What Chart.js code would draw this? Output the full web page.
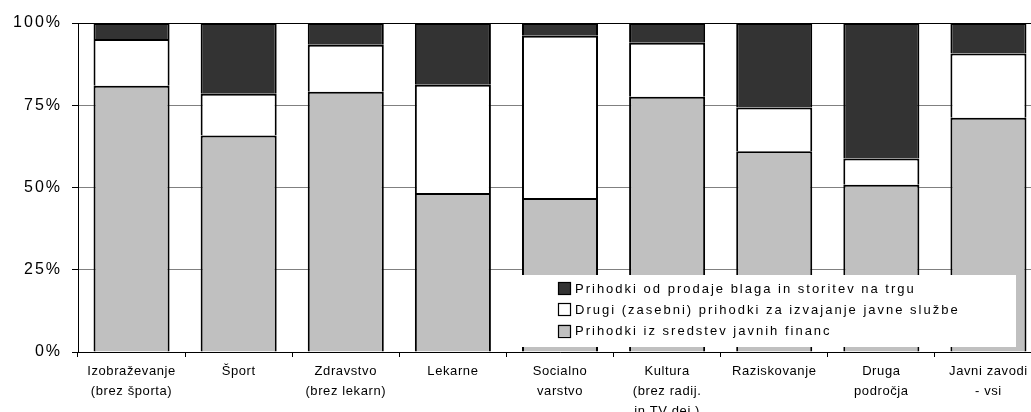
<!DOCTYPE html>
<html>
<head>
<meta charset="utf-8">
<script src="https://cdn.jsdelivr.net/npm/chart.js@4/dist/chart.umd.min.js"></script>
<style>
  html, body { margin: 0; padding: 0; background: #fff; overflow: hidden; width: 1031px; height: 412px; }
  canvas { display: block; }
</style>
</head>
<body>
<canvas id="c" width="1050" height="412"></canvas>
<script>
const categories = [
  ["Izobraževanje", "(brez športa)"],
  ["Šport"],
  ["Zdravstvo", "(brez lekarn)"],
  ["Lekarne"],
  ["Socialno", "varstvo"],
  ["Kultura", "(brez radij.", "in TV dej.)"],
  ["Raziskovanje"],
  ["Druga", "področja"],
  ["Javni zavodi", "- vsi"]
];
const seriesNames = [
  "Prihodki iz sredstev javnih financ",
  "Drugi (zasebni) prihodki za izvajanje javne službe",
  "Prihodki od prodaje blaga in storitev na trgu"
];
const publicFunds = [80.9, 65.8, 79.1, 48.3, 46.8, 77.6, 61.0, 50.8, 71.2];
const otherIncome = [14.2, 12.7, 14.3, 32.9, 49.3, 16.4, 13.3, 8.0, 19.5];
const marketSales = [4.9, 21.5, 6.6, 18.8, 3.9, 6.0, 25.7, 41.2, 9.3];
const yTicks = [0, 25, 50, 75, 100];

const colors = ["#c0c0c0", "#ffffff", "#333333"];

function wrapLabels(scale, spacing) {
  if (scale._spWrapped) return;
  const orig = scale.drawLabels;
  scale.drawLabels = function (ca) {
    const c = this.ctx;
    c.save();
    c.letterSpacing = spacing;
    orig.call(this, ca);
    c.restore();
  };
  scale._spWrapped = true;
}

const spacingPlugin = {
  id: 'spacing',
  afterLayout(chart) {
    wrapLabels(chart.scales.x, '0.6px');
    wrapLabels(chart.scales.y, '2px');
  }
};

const legendPlugin = {
  id: 'customLegend',
  afterDraw(chart) {
    const ctx = chart.ctx;
    const ds = chart.data.datasets;
    ctx.save();
    ctx.fillStyle = '#ffffff';
    ctx.fillRect(522, 275, 494, 72);
    ctx.font = '13px "Liberation Sans", Arial, sans-serif';
    ctx.letterSpacing = '2px';
    ctx.textBaseline = 'middle';
    ctx.textAlign = 'left';
    const order = [2, 1, 0];
    order.forEach((di, i) => {
      const cy = 288 + i * 21.3;
      ctx.fillStyle = ds[di].backgroundColor;
      ctx.fillRect(558.5, cy - 6, 12, 12);
      ctx.strokeStyle = '#000';
      ctx.lineWidth = 1.2;
      ctx.strokeRect(558.5, Math.round(cy - 6) + 0.5, 12, 12);
      ctx.fillStyle = '#000';
      ctx.fillText(ds[di].label, 575, cy + 1);
    });
    ctx.restore();
  }
};

const seriesData = [publicFunds, otherIncome, marketSales];

new Chart(document.getElementById('c'), {
  type: 'bar',
  data: {
    labels: categories,
    datasets: seriesData.map((d, i) => ({
      label: seriesNames[i],
      data: d,
      backgroundColor: colors[i],
      borderColor: '#000000',
      borderWidth: 2,
      borderSkipped: 'start',
      barPercentage: 0.71,
      categoryPercentage: 1.0
    }))
  },
  options: {
    responsive: false,
    devicePixelRatio: 1,
    animation: false,
    events: [],
    layout: { padding: { top: 23, right: 8, left: 0, bottom: 0 } },
    plugins: {
      legend: { display: false },
      tooltip: { enabled: false }
    },
    scales: {
      x: {
        stacked: true,
        offset: true,
        grid: {
          display: true,
          drawOnChartArea: false,
          drawTicks: true,
          tickLength: 5,
          color: '#000000',
          offset: true
        },
        border: { display: true, color: '#000000', width: 1 },
        ticks: {
          color: '#000000',
          font: { family: '"Liberation Sans", Arial, sans-serif', size: 13, lineHeight: '20px' },
          padding: 4,
          maxRotation: 0,
          minRotation: 0,
          autoSkip: false
        },
        afterFit(scale) { scale.height = 60; }
      },
      y: {
        stacked: true,
        min: 0,
        max: 100,
        afterBuildTicks(scale) { scale.ticks = yTicks.map(v => ({ value: v })); },
        grid: {
          color: (c) => (c.tick && c.tick.value === 100) ? '#000000' : '#808080',
          tickColor: '#000000',
          tickLength: 6,
          drawTicks: true
        },
        border: { display: true, color: '#000000', width: 1 },
        ticks: {
          color: '#000000',
          font: { family: '"Liberation Sans", Arial, sans-serif', size: 16 },
          padding: 10,
          callback: (v) => v + '%'
        },
        afterFit(scale) { scale.width = 78; }
      }
    }
  },
  plugins: [spacingPlugin, legendPlugin]
});
</script>
</body>
</html>
